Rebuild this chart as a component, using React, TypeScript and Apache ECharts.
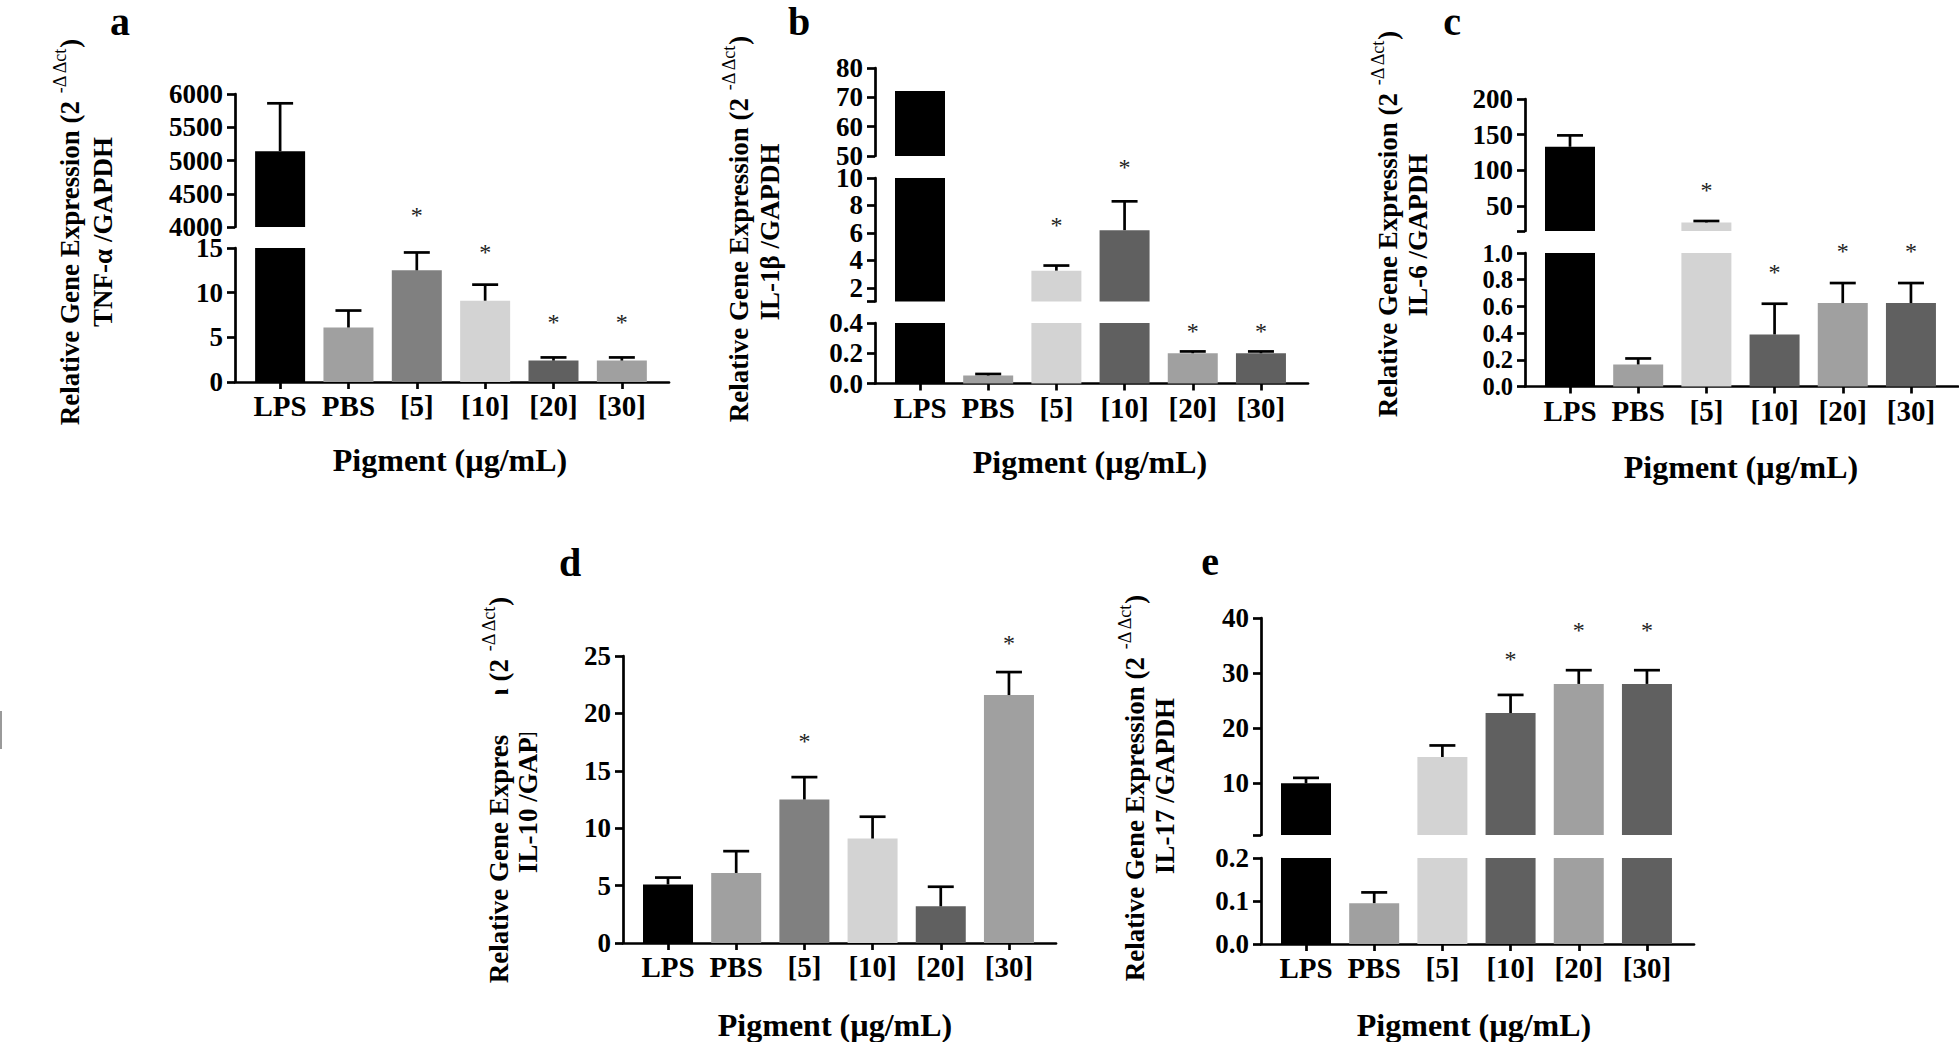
import React, { useEffect, useRef } from "react";
import * as echarts from "echarts";

// ---------------- data ----------------
const categories = ["LPS", "PBS", "[5]", "[10]", "[20]", "[30]"];

// a: TNF-α
const tnfMean = [5140, 6.1, 12.5, 9.1, 2.4, 2.4];
const tnfSd = [720, 1.9, 2.0, 1.8, 0.35, 0.35];
const tnfSig = [false, false, true, true, true, true];
// b: IL-1β
const il1bMean = [72.2, 0.053, 3.25, 6.2, 0.2, 0.2];
const il1bSd = [0, 0.01, 0.37, 2.1, 0.012, 0.012];
const il1bSig = [false, false, true, true, true, true];
// c: IL-6
const il6Mean = [133, 0.165, 27, 0.39, 0.625, 0.625];
const il6Sd = [16, 0.045, 2, 0.23, 0.15, 0.15];
const il6Sig = [false, false, true, true, true, true];
// d: IL-10
const il10Mean = [5.1, 6.1, 12.5, 9.1, 3.2, 21.6];
const il10Sd = [0.6, 1.9, 1.95, 1.9, 1.7, 2.0];
const il10Sig = [false, false, true, false, false, true];
// e: IL-17
const il17Mean = [9.9, 0.095, 14.7, 22.7, 28, 28];
const il17Sd = [1.0, 0.025, 2.1, 3.3, 2.5, 2.5];
const il17Sig = [false, false, false, true, true, true];

// tick labels per axis segment
const tnfTopTicks = [4000, 4500, 5000, 5500, 6000];
const tnfLowTicks = [0, 5, 10, 15];
const il1bTopTicks = [50, 60, 70, 80];
const il1bMidTicks = [2, 4, 6, 8, 10];
const il1bLowTicks = [0, 0.2, 0.4];
const il6TopTicks = [50, 100, 150, 200];
const il6LowTicks = [0, 0.2, 0.4, 0.6, 0.8, 1.0];
const il10Ticks = [0, 5, 10, 15, 20, 25];
const il17TopTicks = [10, 20, 30, 40];
const il17LowTicks = [0, 0.1, 0.2];

// ---------------- styling ----------------
const FONT = '"Liberation Serif", "Times New Roman", serif';
const PAL_A = ["#000000", "#a0a0a0", "#808080", "#d3d3d3", "#606060", "#a0a0a0"];
const PAL_B = ["#000000", "#a0a0a0", "#d3d3d3", "#606060", "#a0a0a0", "#606060"];
const X_MIN = -0.66;
const X_MAX = 5.69;
const LW = 2.7;
const TITLE1 = "Relative Gene Expression (2 {sup|-Δ Δct})";
const XNAME = "Pigment (µg/mL)";

type Seg = { min: number; max: number; labels: number[]; dec: number; top: number; bottom: number; fs?: number };
type Panel = {
  left: number; width: number;
  mean: number[]; sd: number[]; sig: boolean[]; colors: string[]; lift: number[];
  segs: Seg[];
  letter: [string, number, number];
  t1: [number, number]; t2: [string, number, number];
  xname: [number, number];
};

const panels: Panel[] = [
  {
    left: 235, width: 434, mean: tnfMean, sd: tnfSd, sig: tnfSig, colors: PAL_A,
    lift: [0, 0, 37, 33, 35, 35],
    segs: [
      { min: 4000, max: 6000, labels: tnfTopTicks, dec: 0, top: 94, bottom: 227 },
      { min: 0, max: 15, labels: tnfLowTicks, dec: 0, top: 248, bottom: 382 },
    ],
    letter: ["a", 120, 21], t1: [70, 232], t2: ["TNF-α /GAPDH", 103, 232], xname: [450, 460],
  },
  {
    left: 875, width: 433, mean: il1bMean, sd: il1bSd, sig: il1bSig, colors: PAL_B,
    lift: [0, 0, 41, 34, 20, 20],
    segs: [
      { min: 50, max: 80, labels: il1bTopTicks, dec: 0, top: 68, bottom: 156 },
      { min: 1, max: 10, labels: il1bMidTicks, dec: 0, top: 178, bottom: 301.5 },
      { min: 0, max: 0.4, labels: il1bLowTicks, dec: 1, top: 323, bottom: 383.5 },
    ],
    letter: ["b", 799, 21], t1: [739, 229], t2: ["IL-1β /GAPDH", 770, 232], xname: [1090, 462],
  },
  {
    left: 1525, width: 433, mean: il6Mean, sd: il6Sd, sig: il6Sig, colors: PAL_B,
    lift: [0, 0, 31, 32, 32, 32],
    segs: [
      { min: 15, max: 200, labels: il6TopTicks, dec: 0, top: 99, bottom: 231 },
      { min: 0, max: 1, labels: il6LowTicks, dec: 1, top: 253, bottom: 386.5, fs: 24.5 },
    ],
    letter: ["c", 1452, 21], t1: [1388, 224], t2: ["IL-6 /GAPDH", 1418, 235], xname: [1741, 467],
  },
  {
    left: 623, width: 433, mean: il10Mean, sd: il10Sd, sig: il10Sig, colors: PAL_A,
    lift: [0, 0, 36, 0, 0, 29],
    segs: [{ min: 0, max: 25, labels: il10Ticks, dec: 0, top: 656, bottom: 943 }],
    letter: ["d", 570, 562], t1: [499, 790], t2: ["IL-10 /GAPDH", 528, 785], xname: [835, 1025],
  },
  {
    left: 1261, width: 433, mean: il17Mean, sd: il17Sd, sig: il17Sig, colors: PAL_B,
    lift: [0, 0, 0, 36, 40, 40],
    segs: [
      { min: 0.5, max: 40, labels: il17TopTicks, dec: 0, top: 618, bottom: 835 },
      { min: 0, max: 0.2, labels: il17LowTicks, dec: 1, top: 858, bottom: 944 },
    ],
    letter: ["e", 1210, 561], t1: [1135, 788], t2: ["IL-17 /GAPDH", 1165, 786], xname: [1474, 1025],
  },
];

const catIdx = categories.map((_, i) => i);

function renderErr(params: any, api: any) {
  const x = api.value(0);
  const m = api.value(1);
  const s = api.value(2);
  const sg = api.value(3);
  const lift = api.value(4);
  const base = api.coord([x, m]);
  const tip = api.coord([x, m + s]);
  const children: any[] = [];
  if (s > 0) {
    children.push({
      type: "line",
      shape: { x1: base[0], y1: base[1], x2: tip[0], y2: tip[1] },
      style: { stroke: "#000", lineWidth: LW },
    });
    children.push({
      type: "line",
      shape: { x1: tip[0] - 13, y1: tip[1], x2: tip[0] + 13, y2: tip[1] },
      style: { stroke: "#000", lineWidth: LW },
    });
  }
  if (sg) {
    children.push({
      type: "text",
      x: tip[0],
      y: tip[1] - lift,
      style: {
        text: "*", fontSize: 24, fontFamily: FONT, fill: "#222",
        align: "center", verticalAlign: "middle",
      },
    });
  }
  return { type: "group", children };
}

function buildOption() {
  const grid: any[] = [];
  const xAxis: any[] = [];
  const yAxis: any[] = [];
  const series: any[] = [];
  const graphic: any[] = [];

  panels.forEach((p) => {
    p.segs.forEach((s, si) => {
      const gi = grid.length;
      const isLow = si === p.segs.length - 1;
      grid.push({
        left: p.left, top: s.top, width: p.width, height: s.bottom - s.top,
        containLabel: false, outerBoundsMode: "none",
      });
      xAxis.push({
        gridIndex: gi, type: "value", min: X_MIN, max: X_MAX, show: isLow,
        axisLine: { show: true, onZero: false, lineStyle: { color: "#000", width: LW } },
        axisTick: { show: true, length: 7, customValues: catIdx, lineStyle: { color: "#000", width: LW } },
        axisLabel: {
          show: true, customValues: catIdx, margin: 13, hideOverlap: false, lineHeight: 22,
          formatter: (v: number) => categories[Math.round(v)] ?? "",
          color: "#000", fontFamily: FONT, fontWeight: "bold", fontSize: 29,
        },
        splitLine: { show: false },
      });
      const tickVals = s.labels.includes(s.min) ? s.labels : [s.min, ...s.labels];
      yAxis.push({
        gridIndex: gi, type: "value", min: s.min, max: s.max,
        axisLine: { show: true, onZero: false, lineStyle: { color: "#000", width: LW } },
        axisTick: { show: true, length: 8, customValues: tickVals, lineStyle: { color: "#000", width: LW } },
        axisLabel: {
          show: true, customValues: s.labels, margin: 12, lineHeight: 19,
          showMinLabel: true, showMaxLabel: true, hideOverlap: false,
          formatter: (v: number) => v.toFixed(s.dec),
          color: "#000", fontFamily: FONT, fontWeight: "bold", fontSize: s.fs ?? 27,
        },
        splitLine: { show: false },
      });
      series.push({
        type: "bar", xAxisIndex: gi, yAxisIndex: gi, barWidth: 50, clip: true, silent: true,
        data: p.mean.map((v, i) => ({ value: [i, v], itemStyle: { color: p.colors[i] } })),
      });
      const inSeg = catIdx.filter((i) => p.mean[i] >= s.min && p.mean[i] <= s.max);
      series.push({
        type: "custom", xAxisIndex: gi, yAxisIndex: gi, z: 3, silent: true, clip: false,
        encode: { x: 0, y: 1 },
        renderItem: renderErr,
        data: inSeg.map((i) => [i, p.mean[i], p.sd[i], p.sig[i] ? 1 : 0, p.lift[i]]),
      });
    });

    graphic.push({
      type: "text", x: p.letter[1], y: p.letter[2],
      style: {
        text: p.letter[0], fontSize: 40, fontWeight: "bold", fontFamily: FONT, fill: "#000",
        align: "center", verticalAlign: "middle",
      },
    });
    graphic.push({
      type: "text", x: p.t1[0], y: p.t1[1], rotation: Math.PI / 2,
      style: {
        text: TITLE1, fontSize: 27, fontWeight: "bold", fontFamily: FONT, fill: "#000",
        align: "center", verticalAlign: "middle",
        rich: {
          sup: { fontSize: 18, fontWeight: "normal", fontFamily: FONT, fill: "#000", padding: [0, 0, 20, 0] },
        },
      },
    });
    graphic.push({
      type: "text", x: p.t2[1], y: p.t2[2], rotation: Math.PI / 2,
      style: {
        text: p.t2[0], fontSize: 27, fontWeight: "bold", fontFamily: FONT, fill: "#000",
        align: "center", verticalAlign: "middle",
      },
    });
    graphic.push({
      type: "text", x: p.xname[0], y: p.xname[1],
      style: {
        text: XNAME, fontSize: 32, fontWeight: "bold", fontFamily: FONT, fill: "#000",
        align: "center", verticalAlign: "middle",
      },
    });
  });

  // white patches over part of panel d's axis title (as in the source figure)
  graphic.push({
    type: "rect", z: 100, shape: { x: 478, y: 694, width: 35, height: 41 },
    style: { fill: "#ffffff" },
  });
  graphic.push({
    type: "rect", z: 100, shape: { x: 513, y: 680, width: 35, height: 53 },
    style: { fill: "#ffffff" },
  });
  // stray mark at the left edge
  graphic.push({
    type: "line", shape: { x1: 1, y1: 711, x2: 1, y2: 749 },
    style: { stroke: "#9a9a9a", lineWidth: 2 },
  });

  return {
    animation: false,
    backgroundColor: "#ffffff",
    grid, xAxis, yAxis, series, graphic,
  };
}

export default function App() {
  const ref = useRef<HTMLDivElement>(null);
  useEffect(() => {
    if (!ref.current) return;
    const chart = echarts.init(ref.current, null, { renderer: "svg" });
    chart.setOption(buildOption() as any);
    return () => chart.dispose();
  }, []);
  return (
    <div
      ref={ref}
      style={{ position: "absolute", left: 0, top: 0, width: 1959, height: 1042, background: "#fff" }}
    />
  );
}
